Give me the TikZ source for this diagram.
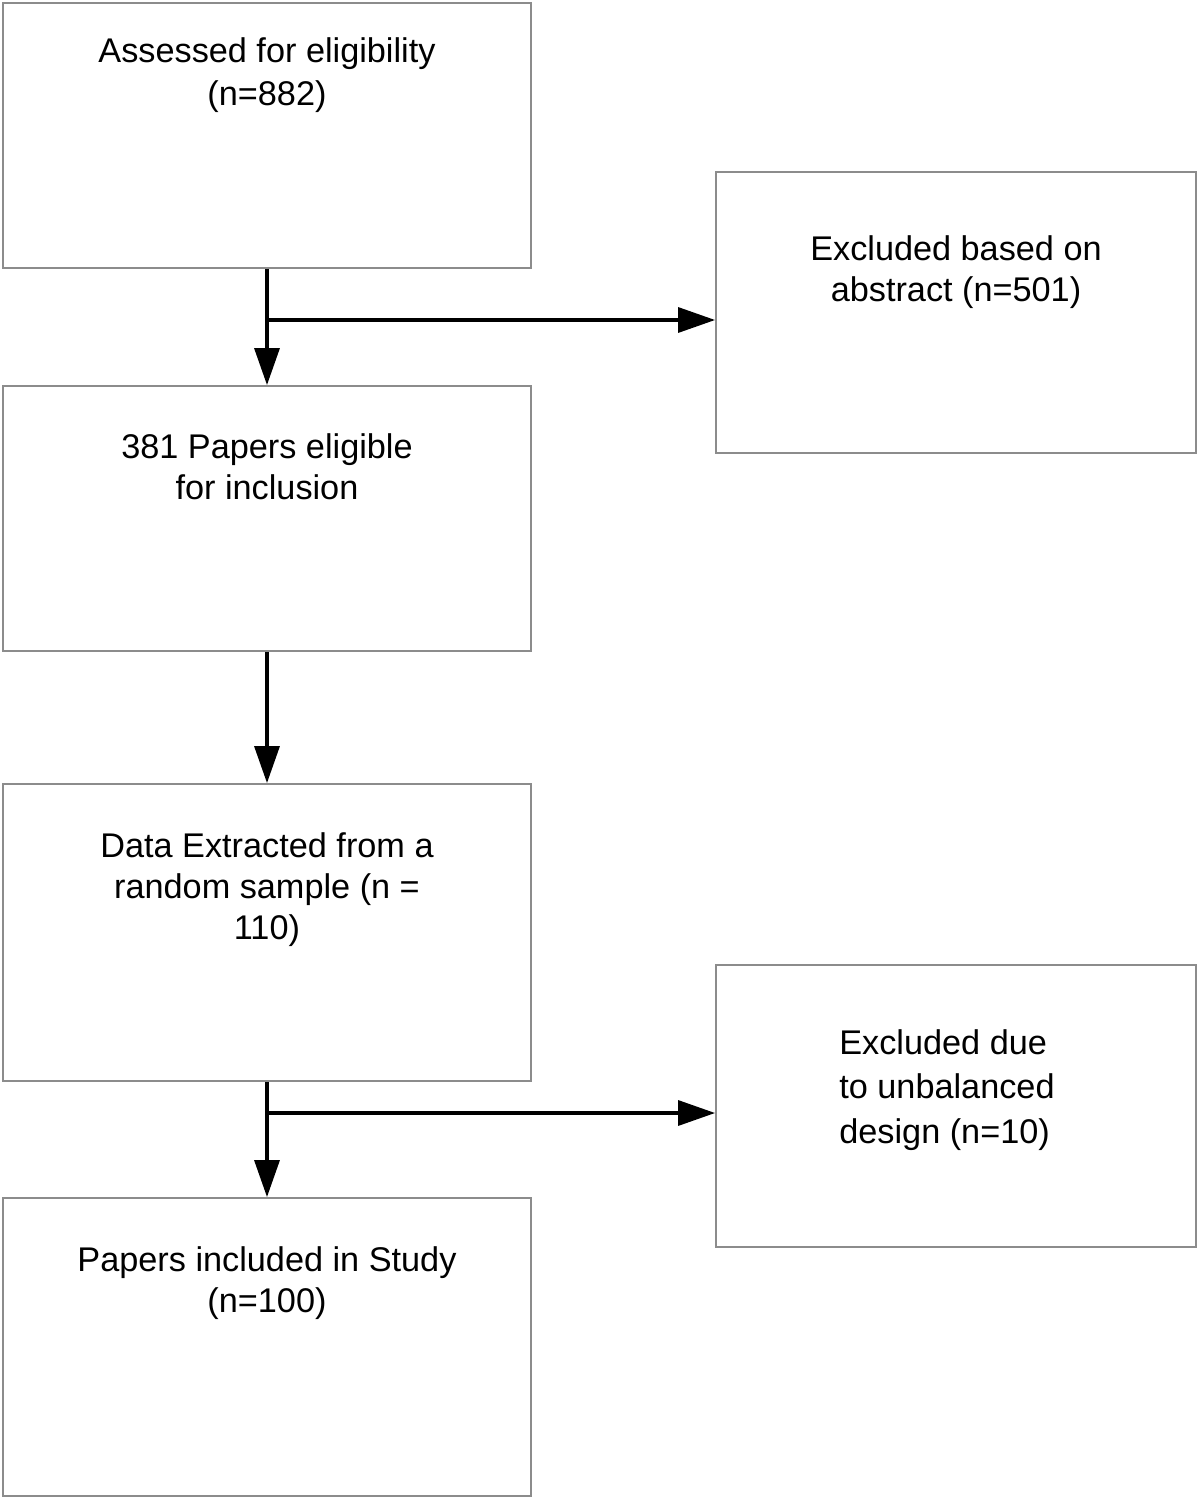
\documentclass[tikz,border=0pt]{standalone}
\usepackage{fontspec}
\setmainfont{Liberation Sans}
\usetikzlibrary{positioning, arrows.meta}

\begin{document}
\begin{tikzpicture}[x=0.02cm, y=-0.02cm,
  box/.style={draw=black!45, line width=1.1pt, minimum width=10.56cm, minimum height=5.3cm, inner sep=0pt},
  sidebox/.style={box, minimum width=9.6cm, minimum height=5.62cm},
  boxtext/.style={align=center, inner sep=0pt, font=\fontsize{19.5}{23.3}\selectfont},
  arr/.style={line width=1.9pt, -{Triangle[length=0.74cm, width=0.5cm]}}]
\useasboundingbox (0,0) rectangle (1200,1501);
\node[box] (assessed) at (267,135.5) {};
\node[sidebox] (abstract) at (956,312.5) {};
\node[box] (eligible) at (267,518.5) {};
\node[box, minimum height=5.94cm] (extracted) at (267,932.5) {};
\node[sidebox, minimum height=5.64cm] (unbalanced) at (956,1106) {};
\node[box, minimum height=5.96cm] (included) at (267,1347) {};
\node[boxtext, below=0.7cm of assessed.north, font=\fontsize{19.5}{24.4}\selectfont] (t1) {Assessed for eligibility\\(n=882)};
\node[boxtext, below=1.28cm of abstract.north] (t2) {Excluded based on\\abstract (n=501)};
\node[boxtext, below=0.96cm of eligible.north] (t3) {381 Papers eligible\\for inclusion};
\node[boxtext, below=0.98cm of extracted.north] (t4) {Data Extracted from a\\random sample (n =\\110)};
\node[boxtext, align=left, below=1.3cm of unbalanced.north, xshift=-0.18cm, font=\fontsize{19.5}{25.4}\selectfont] (t5) {Excluded due\\to unbalanced\\design (n=10)};
\node[boxtext, below=0.98cm of included.north] (t6) {Papers included in Study\\(n=100)};
\coordinate (split1) at (267,320);
\coordinate (split2) at (267,1113);
\draw[arr] (assessed) -- (eligible);
\draw[arr] (split1) -- (split1 -| abstract.west);
\draw[arr] (eligible) -- (extracted);
\draw[arr] (extracted) -- (included);
\draw[arr] (split2) -- (split2 -| unbalanced.west);
\end{tikzpicture}
\end{document}
